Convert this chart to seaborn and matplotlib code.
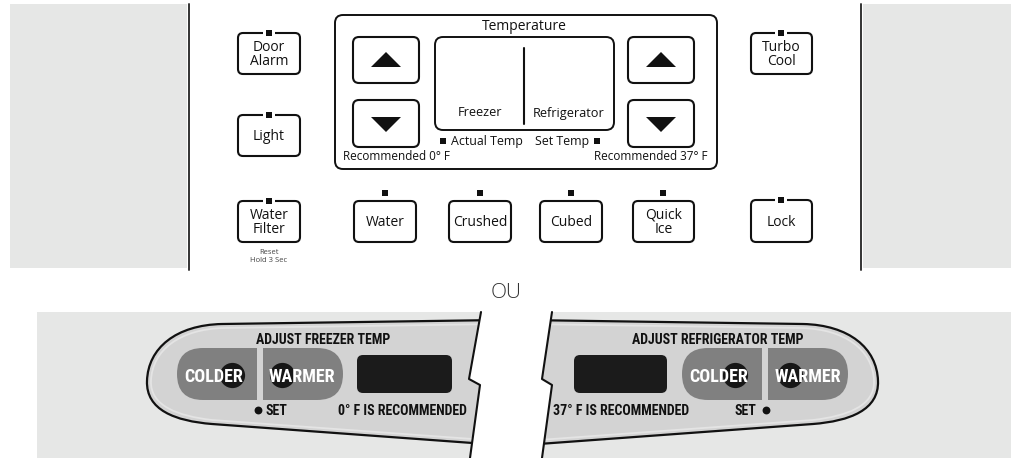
import numpy as np
import pandas as pd
import matplotlib.pyplot as plt
from matplotlib.patches import FancyBboxPatch, Rectangle, Polygon, PathPatch
from matplotlib.path import Path
from matplotlib import font_manager
import seaborn as sns

sns.set_theme(style="white")
plt.rcParams['font.family'] = ['Open Sans', 'DejaVu Sans']

# police étroite pour le bas, si disponible
names = {f.name for f in font_manager.fontManager.ttflist}
narrow = [n for n in ['Liberation Sans Narrow', 'Roboto Condensed', 'DejaVu Sans Condensed']
          if n in names]
COND = narrow[:1] + ['Roboto', 'DejaVu Sans']
COND_SCALE = 1.0 if narrow else 0.8

# textes du panneau
side_left = ["Door\nAlarm", "Light", "Water\nFilter"]
side_right = ["Turbo\nCool", "Lock"]
dispenser = ["Water", "Crushed", "Cubed", "Quick\nIce"]
display_labels = ["Freezer", "Refrigerator"]
temp_title = "Temperature"
temp_notes = ["Actual Temp", "Set Temp"]
recommended = ["Recommended 0° F", "Recommended 37° F"]
reset_note = "Reset\nHold 3 Sec"
separator = "OU"
panel_titles = ["ADJUST FREEZER TEMP", "ADJUST REFRIGERATOR TEMP"]
panel_recommended = ["0° F IS RECOMMENDED", "37° F IS RECOMMENDED"]
panel_buttons = ["COLDER", "WARMER"]
set_label = "SET"

BG = '#e6e7e6'
PANEL = '#d3d3d3'
PILL = '#808080'
INK = '#111111'

fig = plt.figure(figsize=(10.12, 4.58), dpi=100)
ax = fig.add_axes([0, 0, 1, 1])
ax.set_xlim(0, 1012)
ax.set_ylim(458, 0)
ax.axis('off')


def box(x0, x1, y0, y1, r=5, lw=1.5, fc='white', ec=INK, z=2):
    p = FancyBboxPatch((x0, y0), x1 - x0, y1 - y0,
                       boxstyle=f"round,pad=0,rounding_size={r}",
                       fc=fc, ec=ec, lw=lw, zorder=z)
    ax.add_patch(p)
    return p


# ---------- partie haute ----------
ax.add_patch(Rectangle((10, 4), 177, 264, fc=BG, ec='none', zorder=1))
ax.add_patch(Rectangle((863, 4), 149, 264, fc=BG, ec='none', zorder=1))
ax.plot([189, 189], [4, 270], color='#333333', lw=1.4, zorder=2)
ax.plot([861, 861], [4, 270], color='#333333', lw=1.4, zorder=2)

side_x = {0: (238, 300), 1: (751, 812)}
left_y = [(33, 74), (115, 156), (201, 242)]
right_y = [(33, 74), (200, 242)]
ind = []
for lab, (y0, y1) in zip(side_left, left_y):
    x0, x1 = side_x[0]
    box(x0, x1, y0, y1)
    ax.add_patch(Rectangle(((x0 + x1) / 2 - 6, y0 - 3), 12, 6, fc='white', ec='none', zorder=3))
    ind.append(((x0 + x1) / 2, y0, 's'))
    ax.text((x0 + x1) / 2, (y0 + y1) / 2 + 1, lab, ha='center', va='center',
            fontsize=10, linespacing=0.95, color=INK, zorder=4)
for lab, (y0, y1) in zip(side_right, right_y):
    x0, x1 = side_x[1]
    box(x0, x1, y0, y1)
    ax.add_patch(Rectangle(((x0 + x1) / 2 - 6, y0 - 3), 12, 6, fc='white', ec='none', zorder=3))
    ind.append(((x0 + x1) / 2, y0, 's'))
    ax.text((x0 + x1) / 2, (y0 + y1) / 2 + 1, lab, ha='center', va='center',
            fontsize=10, linespacing=0.95, color=INK, zorder=4)
ax.text(269, 256, reset_note, ha='center', va='center', fontsize=5.5,
        color='#444444', linespacing=1.2)

disp_x = [(354, 416), (449, 511), (540, 602), (633, 694)]
for lab, (x0, x1) in zip(dispenser, disp_x):
    box(x0, x1, 201, 242)
    ind.append(((x0 + x1) / 2, 193, 's'))
    ax.text((x0 + x1) / 2, 222, lab, ha='center', va='center',
            fontsize=10, linespacing=0.95, color=INK)

# bloc température
box(335, 717, 15, 169, r=8, lw=1.4)
ax.text(524, 27, temp_title, ha='center', va='center', fontsize=10, color=INK)
for x0, x1 in [(353, 419), (628, 694)]:
    box(x0, x1, 37, 83, r=6)
    box(x0, x1, 100, 147, r=6)
    cx = (x0 + x1) / 2
    ax.add_patch(Polygon([(cx - 15, 67), (cx + 15, 67), (cx, 52)], fc=INK, ec='none', zorder=3))
    ax.add_patch(Polygon([(cx - 15, 117), (cx + 15, 117), (cx, 132)], fc=INK, ec='none', zorder=3))
box(435, 614, 37, 130, r=8, lw=1.4)
ax.plot([524, 524], [48, 124], color=INK, lw=1.5, zorder=3)
ax.text(480, 113, display_labels[0], ha='center', va='center', fontsize=9.2, color=INK)
ax.text(569, 113, display_labels[1], ha='center', va='center', fontsize=9.2, color=INK)
ax.text(451, 141, temp_notes[0], ha='left', va='center', fontsize=8.9, color=INK)
ax.text(589, 141, temp_notes[1], ha='right', va='center', fontsize=8.9, color=INK)
ind.append((443, 141, 's'))
ind.append((597, 141, 's'))
ax.text(343, 157, recommended[0], ha='left', va='center', fontsize=8.5, color=INK)
ax.text(708, 157, recommended[1], ha='right', va='center', fontsize=8.5, color=INK)

ax.text(506, 293, separator, ha='center', va='center', fontsize=15,
        fontweight='light', color='#333333')

# ---------- partie basse ----------
brk_l = [(481, 312), (469, 379), (480, 385), (470, 458)]
brk_r = [(552, 312), (542, 379), (552, 385), (542, 458)]
bg_l = Polygon([(37, 312)] + brk_l + [(37, 458)], fc=BG, ec='none', zorder=1)
bg_r = Polygon(brk_r + [(1012, 458), (1012, 312)], fc=BG, ec='none', zorder=1)
ax.add_patch(bg_l)
ax.add_patch(bg_r)


def panel_path(pts, mirror):
    verts = [(1025 - x, y) if mirror else (x, y) for x, y in pts]
    codes = [Path.MOVETO, Path.LINETO, Path.CURVE4, Path.CURVE4, Path.CURVE4,
             Path.CURVE4, Path.CURVE4, Path.CURVE4, Path.LINETO, Path.CLOSEPOLY]
    return Path(verts + [verts[0]], codes)


outer = [(500, 320), (222, 324), (176, 325), (148, 348), (147, 381),
         (146, 410), (175, 421), (212, 424), (500, 445)]
inner = [(500, 324), (224, 328), (180, 329), (152, 350), (151, 381),
         (150, 406), (178, 416), (212, 420), (500, 441)]

for mirror, clip in [(False, bg_l), (True, bg_r)]:
    p = PathPatch(panel_path(outer, mirror), fc=PANEL, ec=INK, lw=1.6, zorder=2)
    ax.add_patch(p)
    p.set_clip_path(clip)
    q = PathPatch(panel_path(inner, mirror), fc='none', ec='#e4e4e4', lw=1.3, zorder=2)
    ax.add_patch(q)
    q.set_clip_path(clip)

for line in (brk_l, brk_r):
    xs, ys = zip(*line)
    ax.plot(xs, ys, color=INK, lw=1.5, zorder=5)

# boutons gris et afficheurs
for (px0, px1, gap), (dx0, dx1) in [((177, 343, 257), (357, 452)),
                                     ((682, 848, 762), (574, 667))]:
    box(px0, px1, 348, 400, r=26, lw=0, fc=PILL, ec='none', z=3)
    ax.add_patch(Rectangle((gap, 346), 6, 56, fc=PANEL, ec='none', zorder=3))
    box(dx0, dx1, 355, 393, r=6, lw=0, fc='#1b1b1b', ec='none', z=3)

circles = pd.DataFrame({'x': [232, 282, 735, 790], 'y': [375] * 4})
sns.scatterplot(data=circles, x='x', y='y', s=330, color='#161616',
                linewidth=0, ax=ax, zorder=4, legend=False)

big = 13 * COND_SCALE
small = 10 * (1.0 if narrow else 0.8)
for cx, lab in zip([214, 302, 719, 808], panel_buttons * 2):
    ax.text(cx, 377, lab, ha='center', va='center', fontsize=big,
            fontweight='bold', color='white', family=COND, zorder=5)

ax.text(323, 340, panel_titles[0], ha='center', va='center', fontsize=small,
        fontweight='bold', color=INK, family=COND)
ax.text(718, 340, panel_titles[1], ha='center', va='center', fontsize=small,
        fontweight='bold', color=INK, family=COND)
ax.text(402, 411, panel_recommended[0], ha='center', va='center', fontsize=small,
        fontweight='bold', color=INK, family=COND)
ax.text(621, 411, panel_recommended[1], ha='center', va='center', fontsize=small,
        fontweight='bold', color=INK, family=COND)
ax.text(266, 411, set_label, ha='left', va='center', fontsize=small,
        fontweight='bold', color=INK, family=COND)
ax.text(756, 411, set_label, ha='right', va='center', fontsize=small,
        fontweight='bold', color=INK, family=COND)
ind.append((258, 410, 'o'))
ind.append((766, 410, 'o'))

# voyants (carrés et points)
marks = pd.DataFrame(ind, columns=['x', 'y', 'kind'])
sq = marks[marks.kind == 's']
dots = marks[marks.kind == 'o']
sns.scatterplot(data=sq, x='x', y='y', marker='s', s=20, color=INK,
                linewidth=0, ax=ax, zorder=6, legend=False)
sns.scatterplot(data=dots, x='x', y='y', marker='o', s=32, color=INK,
                linewidth=0, ax=ax, zorder=6, legend=False)

ax.set_xlim(0, 1012)
ax.set_ylim(458, 0)
ax.axis('off')
fig.savefig('out.png', dpi=100)
